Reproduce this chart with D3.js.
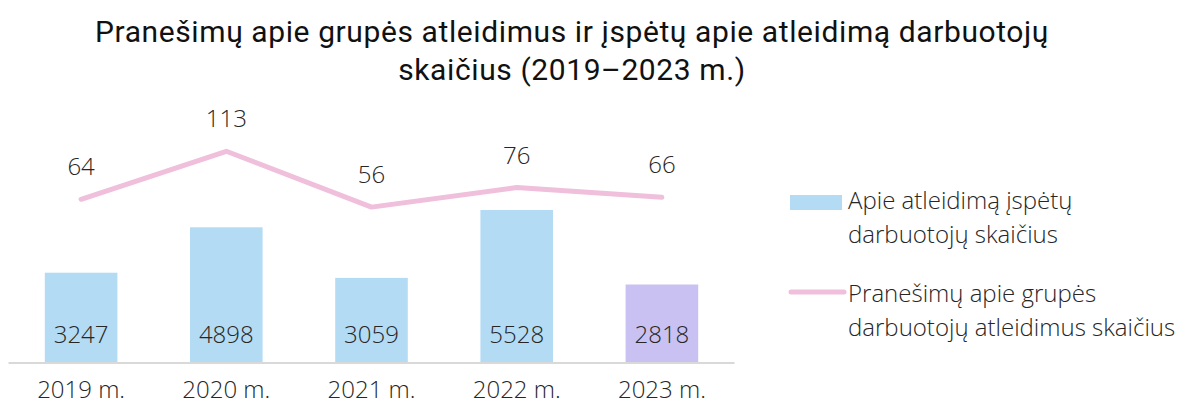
<!DOCTYPE html>
<html>
<head>
<meta charset="utf-8">
<style>
  body { margin: 0; background: #fff; }
  .title { font-family: Roboto, "Liberation Sans", sans-serif; font-size: 30px; letter-spacing: 0.6px; fill: #111; }
  .lbl { font-family: "Open Sans", "Noto Sans", sans-serif; font-weight: 300; font-size: 24px; fill: #262626; }
</style>
<script src="https://cdn.jsdelivr.net/npm/d3@7"></script>
</head>
<body>
<script>
// data
var years = ["2019 m.", "2020 m.", "2021 m.", "2022 m.", "2023 m."];
var warned = [3247, 4898, 3059, 5528, 2818];      // bars
var notices = [64, 113, 56, 76, 66];              // line
var legendBar = ["Apie atleidimą įspėtų", "darbuotojų skaičius"];
var legendLine = ["Pranešimų apie grupės", "darbuotojų atleidimus skaičius"];
var titleLines = ["Pranešimų apie grupės atleidimus ir įspėtų apie atleidimą darbuotojų",
                  "skaičius (2019–2023 m.)"];

var W = 1186, H = 405;
var blue = "#b3dbf3", purple = "#c8c1f1", pink = "#efbfdb";

var svg = d3.select("body").append("svg")
    .attr("width", W)
    .attr("height", H);

// title
svg.selectAll(".title")
  .data(titleLines).enter()
  .append("text")
    .attr("class", "title")
    .attr("x", 572)
    .attr("y", (d, i) => 42 + i * 38)
    .attr("text-anchor", "middle")
    .text(d => d);

var x = d3.scaleBand()
    .domain(years)
    .range([8.5, 734.5])
    .paddingInner(0.5)
    .paddingOuter(0.25);

var yBar = d3.scaleLinear()
    .domain([0, 6000])
    .range([362, 197]);

var yLine = d3.scaleLinear()
    .domain([0, 120])
    .range([262, 144.4]);

// bars
svg.selectAll(".bar")
  .data(warned).enter()
  .append("rect")
    .attr("x", (d, i) => x(years[i]))
    .attr("width", x.bandwidth())
    .attr("y", d => yBar(d))
    .attr("height", d => yBar(0) - yBar(d))
    .attr("fill", (d, i) => i == 4 ? purple : blue);

// baseline
svg.append("line")
    .attr("x1", 8.5).attr("x2", 734.5)
    .attr("y1", yBar(0) + 1).attr("y2", yBar(0) + 1)
    .attr("stroke", "#d9d9d9")
    .attr("stroke-width", 2);

// bar value labels
svg.selectAll(".barlbl")
  .data(warned).enter()
  .append("text")
    .attr("class", "lbl")
    .attr("x", (d, i) => x(years[i]) + x.bandwidth() / 2)
    .attr("y", yBar(0) - 19)
    .attr("text-anchor", "middle")
    .text(d => d);

// x axis labels
var xAxis = d3.axisBottom(x).tickSize(0).tickPadding(0);
var gx = svg.append("g")
    .attr("transform", "translate(0," + (yBar(0) + 36) + ")")
    .call(xAxis);
gx.select(".domain").remove();
gx.selectAll("text")
    .attr("class", "lbl")
    .attr("dy", 0);
gx.attr("font-family", null).attr("font-size", null);

// line
var line = d3.line()
    .x((d, i) => x(years[i]) + x.bandwidth() / 2)
    .y(d => yLine(d));

svg.append("path")
    .datum(notices)
    .attr("d", line)
    .attr("fill", "none")
    .attr("stroke", pink)
    .attr("stroke-width", 5)
    .attr("stroke-linecap", "round")
    .attr("stroke-linejoin", "round");

svg.selectAll(".linelbl")
  .data(notices).enter()
  .append("text")
    .attr("class", "lbl")
    .attr("x", (d, i) => x(years[i]) + x.bandwidth() / 2)
    .attr("y", d => yLine(d) - 24)
    .attr("text-anchor", "middle")
    .text(d => d);

// legend
var lg = svg.append("g");
lg.append("rect")
    .attr("x", 790).attr("y", 195)
    .attr("width", 52).attr("height", 15)
    .attr("fill", blue);
lg.selectAll(".lb1")
  .data(legendBar).enter()
  .append("text")
    .attr("class", "lbl")
    .attr("x", 848)
    .attr("y", (d, i) => 209 + i * 34)
    .text(d => d);

lg.append("line")
    .attr("x1", 791).attr("x2", 844)
    .attr("y1", 292).attr("y2", 292)
    .attr("stroke", pink)
    .attr("stroke-width", 5)
    .attr("stroke-linecap", "round");
lg.selectAll(".lb2")
  .data(legendLine).enter()
  .append("text")
    .attr("class", "lbl")
    .attr("x", 848)
    .attr("y", (d, i) => 302 + i * 34)
    .text(d => d);
</script>
</body>
</html>
